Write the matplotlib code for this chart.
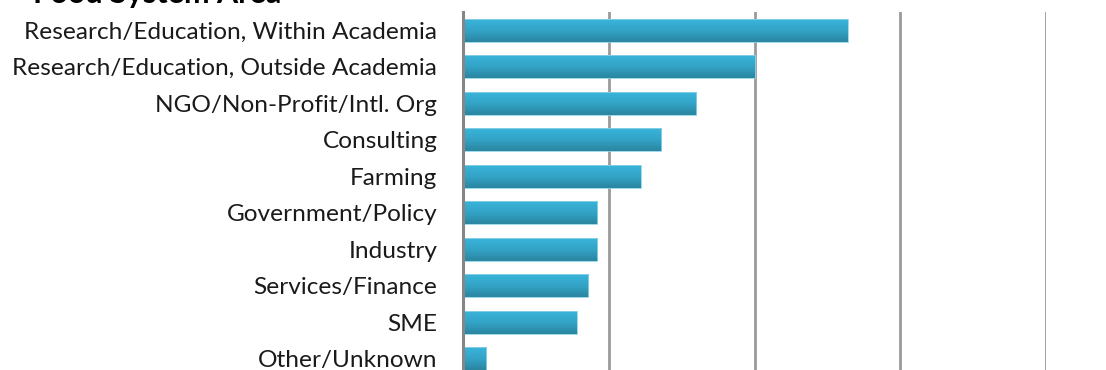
import matplotlib

matplotlib.use("Agg")
import matplotlib.pyplot as plt
import numpy as np
from matplotlib.colors import LinearSegmentedColormap

# data (units of the vertical gridlines = 10)
categories = [
    "Research/Education, Within Academia",
    "Research/Education, Outside Academia",
    "NGO/Non-Profit/Intl. Org",
    "Consulting",
    "Farming",
    "Government/Policy",
    "Industry",
    "Services/Finance",
    "SME",
    "Other/Unknown",
]
values = [26.4, 20.0, 16.0, 13.6, 12.2, 9.2, 9.2, 8.6, 7.8, 1.6]
title = "Food System Area"

W, H = 1106, 370
fig = plt.figure(figsize=(W / 100, H / 100), dpi=100)
ax = fig.add_axes([463 / W, -7 / H, (1046 - 463) / W, 365 / H])

y = np.arange(len(categories))
bars = ax.barh(y, values, height=0.63, color="#31a4c4", edgecolor="none", zorder=3)

# vertical gradient fill for each bar (light on top, darker at bottom)
cmap = LinearSegmentedColormap.from_list("bar", ["#39b5da", "#33a3c6", "#2a86a0"])
grad = np.linspace(0, 1, 64).reshape(-1, 1)
for b in bars:
    x0, y0 = b.get_x(), b.get_y()
    w, h = b.get_width(), b.get_height()
    b.set_facecolor("none")
    b.set_edgecolor("#8fd3e8")
    b.set_linewidth(0.6)
    im = ax.imshow(
        grad,
        extent=(x0, x0 + w, y0 + h, y0),
        cmap=cmap,
        aspect="auto",
        origin="upper",
        zorder=2,
        interpolation="bilinear",
    )
    im.set_clip_path(b)

ax.set_xlim(0, 40)
ax.set_ylim(len(categories) - 0.5, -0.5)
ax.set_yticks(y)
ax.set_yticklabels(categories, fontsize=17.6, fontfamily="Lato", color="#1a1a1a")
ax.tick_params(axis="y", length=0, pad=18.5)
ax.set_xticks([10, 20, 30, 40])
ax.tick_params(axis="x", length=0, labelbottom=False)
ax.grid(axis="x", color="#9a9a9a", linewidth=2, zorder=1)
ax.set_axisbelow(True)

for side in ["top", "right", "bottom"]:
    ax.spines[side].set_visible(False)
ax.spines["left"].set_color("#868686")
ax.spines["left"].set_linewidth(2.2)
ax.spines["left"].set_zorder(4)

# title, mostly cut off at the top edge as in the reference
fig.text(33 / W, 1 - 3 / H, title, fontsize=22, fontweight="bold",
         fontfamily="Lato", color="#000000", va="baseline", ha="left")

fig.savefig("out.png", dpi=100)
